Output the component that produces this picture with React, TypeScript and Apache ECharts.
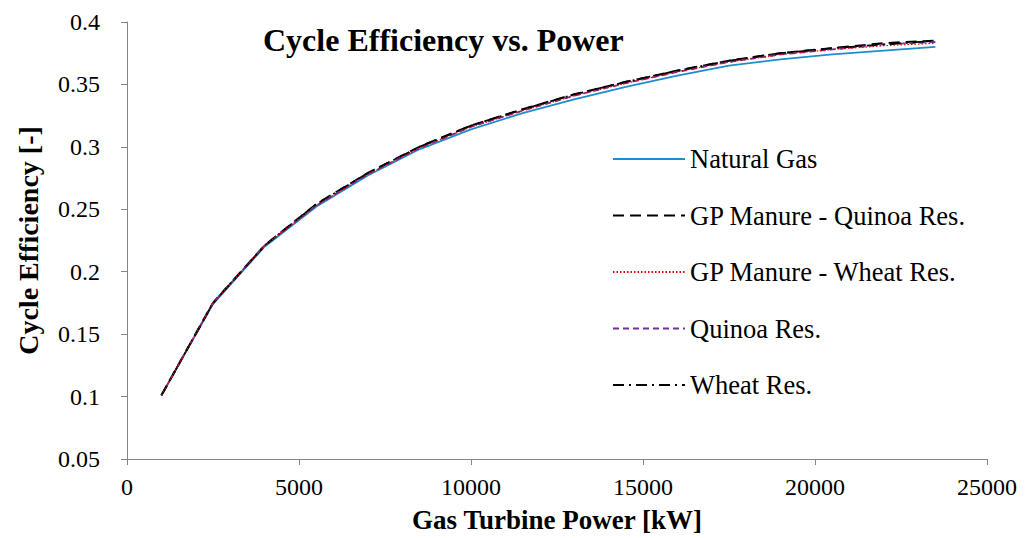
import React, { useEffect, useRef } from "react";
import * as echarts from "echarts";

const powerKW = [1000, 2500, 4000, 5500, 7000, 8500, 10000, 11500, 13000, 14500, 16000, 17500, 19000, 20500, 22000, 23500];
const naturalGas = [0.101, 0.174, 0.220, 0.252, 0.277, 0.298, 0.314, 0.327, 0.338, 0.348, 0.357, 0.365, 0.370, 0.374, 0.377, 0.380];
const gpManureQuinoa = [0.101, 0.175, 0.221, 0.254, 0.279, 0.300, 0.317, 0.330, 0.342, 0.352, 0.361, 0.369, 0.375, 0.379, 0.383, 0.385];
const gpManureWheat = [0.101, 0.175, 0.221, 0.253, 0.278, 0.299, 0.316, 0.329, 0.341, 0.351, 0.360, 0.368, 0.374, 0.378, 0.381, 0.383];
const quinoaRes = [0.101, 0.175, 0.221, 0.253, 0.278, 0.299, 0.316, 0.329, 0.341, 0.351, 0.360, 0.368, 0.374, 0.378, 0.382, 0.384];
const wheatRes = [0.101, 0.175, 0.221, 0.254, 0.279, 0.300, 0.317, 0.330, 0.342, 0.352, 0.361, 0.369, 0.375, 0.379, 0.382, 0.385];

const seriesNames = ["Natural Gas", "GP Manure - Quinoa Res.", "GP Manure - Wheat Res.", "Quinoa Res.", "Wheat Res."];

const BOLD_FONT = "Liberation Serif";
const FONT = "Liberation Serif";

function pairs(ys: number[]) {
  return powerKW.map((x, i) => [x, ys[i]]);
}

export default function App() {
  const ref = useRef<HTMLDivElement>(null);
  useEffect(() => {
    if (!ref.current) return;
    const chart = echarts.init(ref.current, null, { renderer: "svg" });
    const axisColor = "#868686";
    const plain = { fontFamily: FONT, fontWeight: "normal", fontStyle: "normal", color: "#000" };
    chart.setOption({
      animation: false,
      backgroundColor: "#ffffff",
      title: {
        text: "Cycle Efficiency vs. Power",
        left: 258,
        top: 19,
        textStyle: { fontFamily: BOLD_FONT, fontSize: 32, fontWeight: "bold", color: "#000" },
      },
      grid: { left: 127, right: 48, top: 22, bottom: 78, containLabel: false },
      legend: {
        orient: "vertical",
        left: 607,
        top: 139,
        itemWidth: 72,
        itemHeight: 14,
        itemGap: 26.5,
        data: seriesNames,
        itemStyle: { opacity: 0 },
        formatter: (name: string) => `{t|${name}}`,
        textStyle: {
          ...plain,
          fontSize: 26.5,
          lineHeight: 30,
          rich: { t: { ...plain, fontSize: 26.5, lineHeight: 30 } },
        },
      },
      xAxis: {
        type: "value",
        min: 0,
        max: 25000,
        interval: 5000,
        name: "Gas Turbine Power [kW]",
        nameLocation: "middle",
        nameGap: 47,
        nameTextStyle: { fontFamily: BOLD_FONT, fontSize: 27, fontWeight: "bold", color: "#000" },
        axisLine: { lineStyle: { color: axisColor, width: 1 } },
        axisTick: { show: true, length: 6, lineStyle: { color: axisColor } },
        axisLabel: {
          ...plain,
          fontSize: 24,
          margin: 16,
          formatter: (v: number) => `{t|${v}}`,
          rich: { t: { ...plain, fontSize: 24 } },
        },
        splitLine: { show: false },
      },
      yAxis: {
        type: "value",
        min: 0.05,
        max: 0.4,
        interval: 0.05,
        name: "Cycle Efficiency [-]",
        nameLocation: "middle",
        nameRotate: 90,
        nameGap: 85,
        nameTextStyle: { fontFamily: BOLD_FONT, fontSize: 28, fontWeight: "bold", color: "#000" },
        axisLine: { show: true, lineStyle: { color: axisColor, width: 1 } },
        axisTick: { show: true, length: 6, lineStyle: { color: axisColor } },
        axisLabel: {
          ...plain,
          fontSize: 24,
          margin: 27,
          formatter: (v: number) => `{t|${Math.round(v * 100) / 100}}`,
          rich: { t: { ...plain, fontSize: 24 } },
        },
        splitLine: { show: false },
      },
      series: [
        {
          name: seriesNames[0],
          type: "line",
          data: pairs(naturalGas),
          symbol: "none",
          lineStyle: { color: "#1f8dcb", width: 1.7, type: "solid" },
          itemStyle: { color: "#1f8dcb" },
        },
        {
          name: seriesNames[1],
          type: "line",
          data: pairs(gpManureQuinoa),
          symbol: "none",
          lineStyle: { color: "#000000", width: 2.2, type: [11, 6] },
          itemStyle: { color: "#000000" },
        },
        {
          name: seriesNames[3],
          type: "line",
          data: pairs(quinoaRes),
          symbol: "none",
          lineStyle: { color: "#7030a0", width: 1.8, type: [6, 4] },
          itemStyle: { color: "#7030a0" },
        },
        {
          name: seriesNames[4],
          type: "line",
          data: pairs(wheatRes),
          symbol: "none",
          lineStyle: { color: "#000000", width: 1.8, type: [11, 5, 2, 5] },
          itemStyle: { color: "#000000" },
        },
        {
          name: seriesNames[2],
          type: "line",
          data: pairs(gpManureWheat),
          symbol: "none",
          lineStyle: { color: "#e00000", width: 1.2, type: [1.5, 2] },
          itemStyle: { color: "#e00000" },
        },
      ],
    });
    return () => chart.dispose();
  }, []);
  return (
    <div
      ref={ref}
      style={{ position: "fixed", left: 0, top: 0, width: 1035, height: 538, background: "#fff" }}
    />
  );
}
